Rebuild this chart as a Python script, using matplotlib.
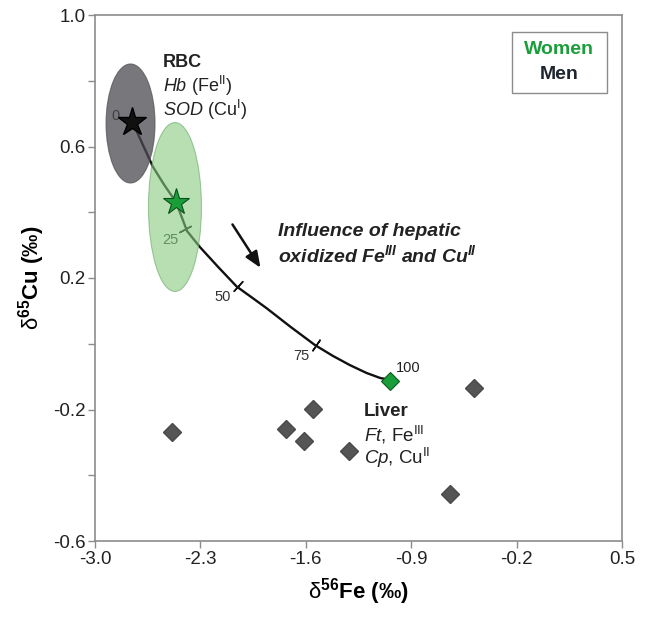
import matplotlib.pyplot as plt
import numpy as np
from matplotlib.patches import Ellipse, Rectangle

plt.rcParams['font.family'] = ['Liberation Sans', 'DejaVu Sans']
plt.rcParams['mathtext.fontset'] = 'custom'
plt.rcParams['mathtext.rm'] = 'Liberation Sans'
plt.rcParams['mathtext.it'] = 'Liberation Sans:italic'
plt.rcParams['mathtext.bf'] = 'Liberation Sans:bold'
plt.rcParams['mathtext.bfit'] = 'Liberation Sans:italic:bold'

# liver samples (grey diamonds)
liver_fe = [-2.49, -1.73, -1.55, -1.61, -1.31, -0.48, -0.64]
liver_cu = [-0.268, -0.259, -0.199, -0.296, -0.326, -0.136, -0.457]

# mean values
rbc_men = (-2.756, 0.675)
rbc_women = (-2.462, 0.430)
liver_mean = (-1.041, -0.112)

# ellipses: centre x, centre y, width, height
ell_men = (-2.764, 0.670, 0.325, 0.362)
ell_women = (-2.469, 0.416, 0.352, 0.514)

# mixing curve RBC -> liver
mix_fe = [-2.754, -2.685, -2.615, -2.540, -2.462, -2.389, -2.303, -2.183, -2.059,
          -1.950, -1.860, -1.703, -1.539, -1.420, -1.307, -1.196, -1.107, -1.041]
mix_cu = [0.678, 0.608, 0.538, 0.483, 0.431, 0.343, 0.294, 0.234, 0.174,
          0.138, 0.108, 0.052, -0.004, -0.037, -0.065, -0.089, -0.104, -0.110]
tick_fe = [-2.40, -2.05, -1.53]
tick_cu = [0.350, 0.176, -0.003]
tick_lab = ['25', '50', '75']

fig = plt.figure(figsize=(6.46, 6.21), dpi=100)
ax = fig.add_axes([95/646, 1-541/621, 527/646, 526/621])
ax.set_xlim(-3.0, 0.5)
ax.set_ylim(-0.6, 1.0)

ax.set_xticks([-3.0, -2.3, -1.6, -0.9, -0.2, 0.5])
ax.set_xticklabels(['-3.0', '-2.3', '-1.6', '-0.9', '-0.2', '0.5'])
ax.set_yticks([-0.6, -0.2, 0.2, 0.6, 1.0])
ax.set_yticklabels(['-0.6', '-0.2', '0.2', '0.6', '1.0'])
ax.set_yticks([-0.4, 0.0, 0.4, 0.8], minor=True)
for s in ax.spines.values():
    s.set_color('#8c8c8c')
    s.set_linewidth(1.2)
ax.tick_params(which='both', direction='out', length=5, width=1.0, color='#8c8c8c',
               labelsize=13.5, labelcolor='#222222', pad=2)

# mixing curve
ax.plot(mix_fe, mix_cu, color='#111111', lw=1.7, zorder=1, solid_joinstyle='round')

# small ticks across the curve
xy_disp = ax.transData.transform(np.column_stack([mix_fe, mix_cu]))
for tx, ty, lab in zip(tick_fe, tick_cu, tick_lab):
    p = ax.transData.transform((tx, ty))
    i = np.argmin(np.hypot(xy_disp[:, 0]-p[0], xy_disp[:, 1]-p[1]))
    i0, i1 = max(i-1, 0), min(i+1, len(mix_fe)-1)
    d = xy_disp[i1] - xy_disp[i0]
    ang = np.degrees(np.arctan2(d[1], d[0])) + 90
    ax.plot(tx, ty, marker=(2, 2, ang-90), ms=10, mew=1.1, mec='#111111', zorder=1)
    ax.annotate(lab, (tx, ty), xytext=(-11, -8), textcoords='offset points',
                ha='center', va='center', fontsize=10.5, color='#333333', zorder=1)
ax.annotate('0', rbc_men, xytext=(-12, 4), textcoords='offset points',
            ha='center', va='center', fontsize=10.5, color='#222222', zorder=1)
ax.annotate('100', liver_mean, xytext=(13, 9), textcoords='offset points',
            ha='center', va='center', fontsize=10.5, color='#222222', zorder=1)

# ellipses
ax.add_patch(Ellipse(ell_men[:2], ell_men[2], ell_men[3], facecolor='#4a4a50',
                     edgecolor='#555555', lw=0.8, alpha=0.75, zorder=2))
ax.add_patch(Ellipse(ell_women[:2], ell_women[2], ell_women[3], facecolor='#87cb7f',
                     edgecolor='#6aa86a', lw=0.8, alpha=0.6, zorder=2))

# points
ax.plot(liver_fe, liver_cu, 'D', ms=9.5, color='#555555', mec='#4a4a4a', zorder=3)
ax.plot(*liver_mean, 'D', ms=9.5, color='#1a9e3a', mec='#0d5c1f', mew=0.8, zorder=4)
ax.plot(*rbc_men, '*', ms=21, color='#111111', mec='#000000', zorder=4)
ax.plot(*rbc_women, '*', ms=20, color='#1a9e3a', mec='#0d4f1c', mew=0.8, zorder=4)

# arrow
ax.annotate('', xy=(-1.891, 0.224), xytext=(-2.097, 0.370),
            arrowprops=dict(arrowstyle='-|>,head_length=0.6,head_width=0.25',
                            color='#111111', lw=1.8, mutation_scale=16), zorder=3)

# annotations
ax.text(-2.548, 0.857, 'RBC', fontsize=13, fontweight='bold', va='center', color='#222222')
ax.text(-2.548, 0.784, r'$\mathit{Hb}$ (Fe$^{\mathrm{II}}$)', fontsize=13, va='center', color='#222222')
ax.text(-2.548, 0.711, r'$\mathit{SOD}$ (Cu$^{\mathrm{I}}$)', fontsize=13, va='center', color='#222222')

ax.text(-1.785, 0.340, 'Influence of hepatic', fontsize=14, fontweight='bold',
        style='italic', va='center', color='#222222')
ax.text(-1.785, 0.270, r'oxidized Fe$^{\mathbfit{III}}$ and Cu$^{\mathbfit{II}}$', fontsize=14,
        fontweight='bold', style='italic', va='center', color='#222222')

ax.text(-1.215, -0.207, 'Liver', fontsize=13.5, fontweight='bold', va='center', color='#222222')
ax.text(-1.215, -0.278, r'$\mathit{Ft}$, Fe$^{\mathrm{III}}$', fontsize=13.5, va='center', color='#222222')
ax.text(-1.215, -0.348, r'$\mathit{Cp}$, Cu$^{\mathrm{II}}$', fontsize=13.5, va='center', color='#222222')

# legend box
ax.add_patch(Rectangle((0.791, 0.852), 0.180, 0.116, transform=ax.transAxes,
                       facecolor='white', edgecolor='#8c8c8c', lw=1.0, zorder=5))
ax.text(0.881, 0.935, 'Women', transform=ax.transAxes, fontsize=14, fontweight='bold',
        color='#1a9e3a', ha='center', va='center', zorder=6)
ax.text(0.881, 0.886, 'Men', transform=ax.transAxes, fontsize=14, fontweight='bold',
        color='#1c2530', ha='center', va='center', zorder=6)

ax.set_xlabel(r'$\mathrm{δ}^{\mathbf{56}}$Fe (‰)', fontsize=16, fontweight='bold', labelpad=6)
ax.set_ylabel(r'$\mathrm{δ}^{\mathbf{65}}$Cu (‰)', fontsize=16, fontweight='bold', labelpad=4)

fig.savefig('out.png', dpi=100)
